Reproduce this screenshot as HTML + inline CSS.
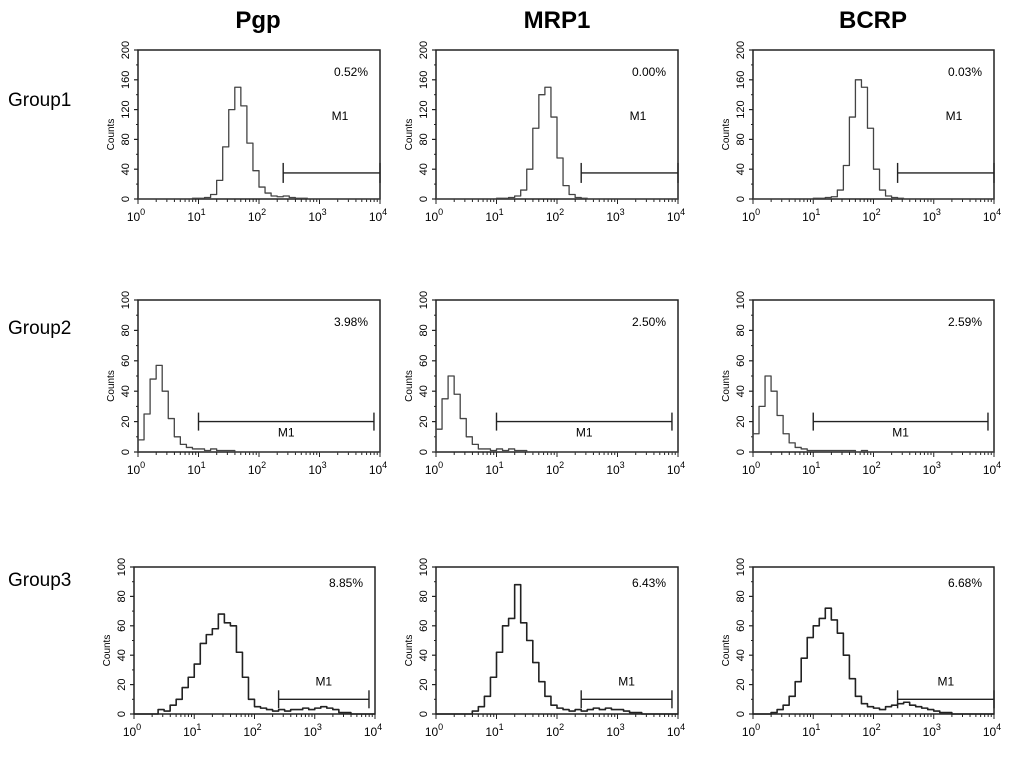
<!DOCTYPE html>
<html><head><meta charset="utf-8">
<style>
html,body{margin:0;padding:0;background:#fff;}
svg{display:block;font-family:"Liberation Sans",sans-serif;}
</style></head>
<body>
<svg id="fig" width="1024" height="769" viewBox="0 0 1024 769" xmlns="http://www.w3.org/2000/svg">
<text x="258" y="28" font-size="24" font-weight="bold" text-anchor="middle">Pgp</text>
<text x="557" y="28" font-size="24" font-weight="bold" text-anchor="middle">MRP1</text>
<text x="873" y="28" font-size="24" font-weight="bold" text-anchor="middle">BCRP</text>
<text x="8" y="106" font-size="19">Group1</text>
<text x="8" y="334" font-size="19">Group2</text>
<text x="8" y="586" font-size="19">Group3</text>
</svg>
<script>
// 40 bins, 10 per decade, over 10^0..10^4
const g1Pgp  = [0,0,0,0,0,0,0,0,0,1,1,2,6,25,70,120,150,125,75,38,16,8,4,3,4,2,1,1,0,0,0,0,0,0,0,0,0,0,0,0];
const g1Mrp1 = [0,0,0,0,0,0,0,0,0,0,1,1,2,4,12,40,95,140,150,110,55,18,6,2,1,0,0,0,0,0,0,0,0,0,0,0,0,0,0,0];
const g1Bcrp = [0,0,0,0,0,0,0,0,0,0,1,1,2,3,12,45,110,160,150,95,40,12,4,2,1,0,0,0,0,0,0,0,0,0,0,0,0,0,0,0];
const g2Pgp  = [8,25,48,57,40,22,10,5,3,2,2,1,2,1,1,1,0,0,0,0,0,0,0,0,0,0,0,0,0,0,0,0,0,0,0,0,0,0,0,0];
const g2Mrp1 = [15,35,50,38,22,10,5,2,2,1,2,1,2,1,1,0,0,0,0,0,0,0,0,0,0,0,0,0,0,0,0,0,0,0,0,0,0,0,0,0];
const g2Bcrp = [12,30,50,40,24,12,6,3,2,1,1,1,1,1,1,1,1,0,1,0,0,0,0,0,0,0,0,0,0,0,0,0,0,0,0,0,0,0,0,0];
const g3Pgp  = [0,0,0,0,3,2,6,10,18,25,34,48,54,58,68,62,60,42,25,10,5,4,3,2,3,2,3,3,4,3,4,5,4,3,1,1,0,0,0,0];
const g3Mrp1 = [0,0,0,0,0,0,2,5,12,25,42,60,65,88,62,50,35,22,12,6,4,3,2,3,2,3,4,3,4,3,3,2,1,1,0,0,0,0,0,0];
const g3Bcrp = [0,0,0,1,3,6,12,22,38,52,60,65,72,64,55,40,24,12,7,5,4,3,5,6,7,8,6,5,4,3,2,1,1,0,0,0,0,0,0,0];
const percents = ["0.52%","0.00%","0.03%","3.98%","2.50%","2.59%","8.85%","6.43%","6.68%"];
const yMax = [200,100,100];
const yTicks = [[0,40,80,120,160,200],[0,20,40,60,80,100],[0,20,40,60,80,100]];
const xTickLabels = ["0","1","2","3","4"];
const markerStart = [2.4,1.0,2.4];
const markerEnd = [[4,4,4],[3.9,3.9,3.9],[3.9,3.9,4]];
const markerLevel = [35,20,10];
const allData = [[g1Pgp,g1Mrp1,g1Bcrp],[g2Pgp,g2Mrp1,g2Bcrp],[g3Pgp,g3Mrp1,g3Bcrp]];

const NS="http://www.w3.org/2000/svg";
const svg=document.getElementById('fig');
const colX=[[138,380],[436,678],[753,994]];
const rowY=[[50,199],[300,452],[567,714]];
function mk(tag,attrs,parent){const e=document.createElementNS(NS,tag);for(const k in attrs)e.setAttribute(k,attrs[k]);(parent||svg).appendChild(e);return e;}

for(let r=0;r<3;r++){for(let c=0;c<3;c++){
  const x0=colX[c][0]-(r===2&&c===0?4:0), x1=colX[c][1]-(r===2&&c===0?5:0), y0=rowY[r][0], y1=rowY[r][1];
  const sx=v=>x0+(x1-x0)*v/4;
  const sy=v=>y1-(y1-y0)*v/yMax[r];
  const g=mk('g',{});
  
  
  const box=mk('rect',{x:x0,y:y0,width:x1-x0,height:y1-y0,fill:'none',stroke:'#222','stroke-width':1.5},g);
  
  
  yTicks[r].forEach(t=>{
    mk('line',{x1:x0-4,x2:x0,y1:sy(t),y2:sy(t),stroke:'#222','stroke-width':1.2},g);
    const tx=mk('text',{x:x0-9,y:sy(t),'font-size':11,'text-anchor':'middle',transform:'rotate(-90 '+(x0-9)+' '+sy(t)+')'},g);
    tx.textContent=t;
    
    
  });
  for(let k=0;k<yTicks[r].length-1;k++){const m=(yTicks[r][k]+yTicks[r][k+1])/2;mk('line',{x1:x0-2,x2:x0,y1:sy(m),y2:sy(m),stroke:'#222'},g);}
  const cy=(y0+y1)/2+10;
  const ct=mk('text',{x:x0-24,y:cy,'font-size':10,'text-anchor':'middle',transform:'rotate(-90 '+(x0-24)+' '+cy+')'},g);
  ct.textContent='Counts';
  
  
  for(let d=0;d<4;d++){for(let m=1;m<10;m++){const v=d+Math.log10(m);mk('line',{x1:sx(v),x2:sx(v),y1:y1,y2:y1+(m===1?5:3),stroke:'#222'},g);}}
  mk('line',{x1:sx(4),x2:sx(4),y1:y1,y2:y1+5,stroke:'#222'},g);
  xTickLabels.forEach((l,i)=>{
    const t=mk('text',{x:sx(i)-2,y:y1+22,'font-size':12,'text-anchor':'middle'},g);
    t.innerHTML='10<tspan dy="-6" font-size="9">'+l+'</tspan>';
    
    
  });
  const data=allData[r][c];
  let d='M'+sx(0)+','+sy(0);
  data.forEach((v,i)=>{d+=' L'+sx(i/10)+','+sy(v)+' L'+sx((i+1)/10)+','+sy(v);});
  const p=mk('path',{d:d,fill:'none',stroke:r===2?'#222':'#444','stroke-width':r===2?1.6:1.3,'stroke-linejoin':'round'},g);
  
  
  const ms=sx(markerStart[r]), me=sx(markerEnd[r][c]), my=sy(markerLevel[r]);
  const mg=mk('g',{stroke:'#222','stroke-width':1.4},g);
  
  
  mk('line',{x1:ms,x2:me,y1:my,y2:my},mg);
  const h=r===0?10:9;
  mk('line',{x1:ms,x2:ms,y1:my-h,y2:my+h},mg);
  mk('line',{x1:me,x2:me,y1:my-h,y2:my+h},mg);
  const ml=mk('text',{x:r===0?x1-40:(ms+me)/2,y:r===0?y0+70:my+15,'font-size':12,'text-anchor':'middle'},g);
  if(r===2){ml.setAttribute('y',my-14);}
  ml.textContent='M1';
  
  
  const pt=mk('text',{x:x1-12,y:y0+(r===2?20:26),'font-size':12,'text-anchor':'end'},g);
  pt.textContent=percents[r*3+c];
  
  
}}
</script>
</body></html>
